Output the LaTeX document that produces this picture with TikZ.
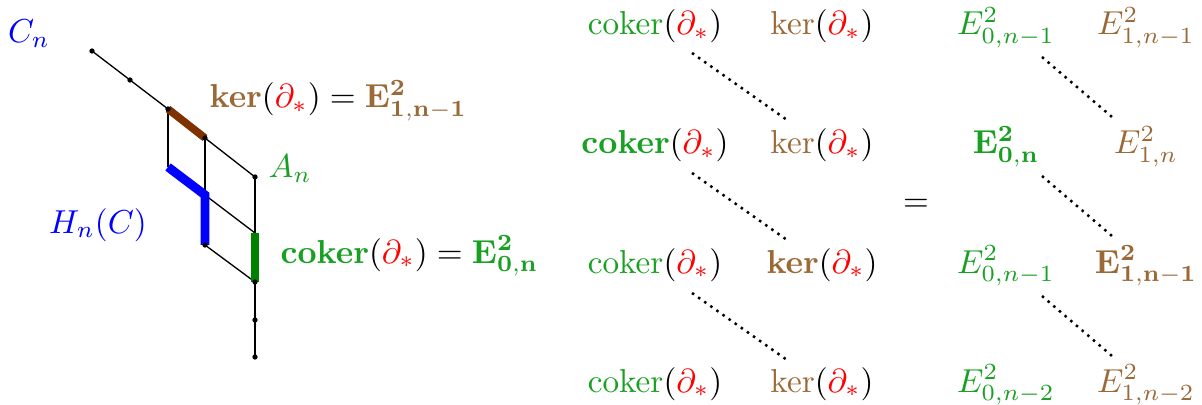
\documentclass[tikz,border=0pt]{standalone}
\usetikzlibrary{calc}
\definecolor{tgreen}{RGB}{25,160,35}
\definecolor{bgreen}{RGB}{0,130,0}
\definecolor{tbrown}{RGB}{155,105,55}
\definecolor{bbrown}{RGB}{125,50,0}
\newcommand{\mydel}{\textcolor{red}{\partial_*}}
\newcommand{\mycok}{\textcolor{tgreen}{\mathrm{coker}}(\mydel)}
\newcommand{\mycokb}{\textcolor{tgreen}{\mathbf{coker}}(\mydel)}
\newcommand{\myker}{\textcolor{tbrown}{\mathrm{ker}}(\mydel)}
\newcommand{\mykerb}{\textcolor{tbrown}{\mathbf{ker}}(\mydel)}
\begin{document}
\begin{tikzpicture}[x=0.3013pt,y=-0.3013pt,
  thinl/.style={line width=0.4pt,black},
  vdot/.style={fill=black},
  dotline/.style={line width=0.75pt,dash pattern=on 0.75pt off 1.5pt},
  lbl/.style={inner sep=0pt,anchor=base},
  bar/.style={line width=2.7pt}]
\useasboundingbox (0,0) rectangle (1202,405);
% vertices of the left figure
\coordinate (v1) at (92,51);
\coordinate (v2) at (130,80);
\coordinate (v3) at (168,109);
\coordinate (v4) at (205,138);
\coordinate (v5) at (255,177);
\coordinate (w3) at (168,167);
\coordinate (w4) at (205,195);
\coordinate (w5) at (255,233);
\coordinate (u4) at (205,245);
\coordinate (u5) at (255,282);
\coordinate (t5) at (255,320);
\coordinate (s5) at (255,357);
% thin lines
\draw[thinl] (v1) -- (v2) -- (v3) -- (v4) -- (v5);
\draw[thinl] (v3) -- (w3);
\draw[thinl] (v4) -- (w4);
\draw[thinl] (v5) -- (w5);
\draw[thinl] (w4) -- (w5);
\draw[thinl] (u4) -- (u5);
\draw[thinl] (u5) -- (t5) -- (s5);
% bars
\draw[bar,bbrown,line width=2.3pt] (v3) -- (v4);
\draw[bar,blue] (w3) -- (w4) -- (u4);
\draw[bar,bgreen] (w5) -- (u5);
% dots
\foreach \p in {v1,v2,v3,v4,v5,u4,u5,t5,s5}
  \fill[vdot] (\p) circle (0.8pt);
% left labels
\node[lbl,text=blue] (Cn) at (29,43) {$C_n$};
\node[lbl,text=blue] (Hn) at (98,233) {$H_n(C)$};
\node[lbl,anchor=base west] (kl) at (209,108) {$\mykerb = \textcolor{tbrown}{\mathbf{E^2_{1,n-1}}}$};
\node[lbl,anchor=base west,text=tgreen] (An) at (268,178) {$A_n$};
\node[lbl,anchor=base west] (cl) at (280,263) {$\mycokb = \textcolor{tgreen}{\mathbf{E^2_{0,n}}}$};
% right grid
\node[lbl] (c1) at (655,35) {$\mycok$};
\node[lbl] (k1) at (822,35) {$\myker$};
\node[lbl] (c2) at (655,154) {$\mycokb$};
\node[lbl] (k2) at (822,154) {$\myker$};
\node[lbl] (c3) at (655,273) {$\mycok$};
\node[lbl] (k3) at (822,273) {$\mykerb$};
\node[lbl] (c4) at (655,392) {$\mycok$};
\node[lbl] (k4) at (822,392) {$\myker$};
\node[lbl] (eq) at (916,211) {$=$};
\node[lbl,text=tgreen] (e1) at (1006,35) {$E^2_{0,n-1}$};
\node[lbl,text=tbrown] (f1) at (1146,35) {$E^2_{1,n-1}$};
\node[lbl,text=tgreen] (e2) at (1006,154) {$\mathbf{E^2_{0,n}}$};
\node[lbl,text=tbrown] (f2) at (1146,154) {$E^2_{1,n}$};
\node[lbl,text=tgreen] (e3) at (1006,273) {$E^2_{0,n-1}$};
\node[lbl,text=tbrown] (f3) at (1146,273) {$\mathbf{E^2_{1,n-1}}$};
\node[lbl,text=tgreen] (e4) at (1006,392) {$E^2_{0,n-2}$};
\node[lbl,text=tbrown] (f4) at (1146,392) {$E^2_{1,n-2}$};
% dotted connectors
\draw[dotline] ($(c1.base)+(37,18)$) -- ($(k2.base)+(-35,-34)$);
\draw[dotline] ($(c2.base)+(37,19)$) -- ($(k3.base)+(-35,-33)$);
\draw[dotline] ($(c3.base)+(37,20)$) -- ($(k4.base)+(-35,-32)$);
\draw[dotline] ($(e1.base)+(36,22)$) -- ($(f2.base)+(-34,-37)$);
\draw[dotline] ($(e2.base)+(36,22)$) -- ($(f3.base)+(-34,-37)$);
\draw[dotline] ($(e3.base)+(36,23)$) -- ($(f4.base)+(-34,-36)$);
\end{tikzpicture}
\end{document}
